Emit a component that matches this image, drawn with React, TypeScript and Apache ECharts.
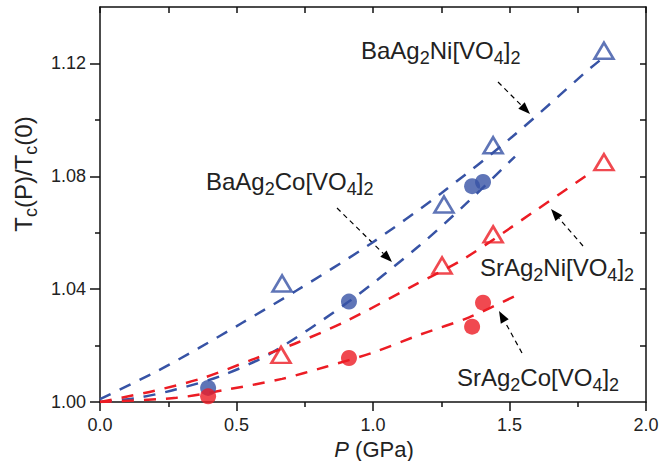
import React, { useEffect, useRef } from "react";
import * as echarts from "echarts";

// ---- axis ticks ----
const xMajorTicks = [0, 0.5, 1.0, 1.5, 2.0];
const yMajorTicks = [1.0, 1.04, 1.08, 1.12];
const yMinorTicks = [1.02, 1.06, 1.1];
const yRightTicks = [1.02, 1.04, 1.06, 1.08, 1.1, 1.12];

// ---- measured points ----
const baNiP = [0.667, 1.26, 1.44, 1.846];
const baNiTc = [1.042, 1.07, 1.091, 1.1245];
const baCoP = [0.396, 0.912, 1.363, 1.403];
const baCoTc = [1.005, 1.0356, 1.0765, 1.078];
const srNiP = [0.663, 1.253, 1.44, 1.846];
const srNiTc = [1.0167, 1.0484, 1.0594, 1.085];
const srCoP = [0.396, 0.912, 1.363, 1.403];
const srCoTc = [1.002, 1.0156, 1.0267, 1.0352];

// ---- dashed fit curves ----
const baNiFitP = [0, 0.21, 0.36, 0.52, 0.72, 0.99, 1.25, 1.51, 1.78, 1.83];
const baNiFitTc = [1.001, 1.011, 1.019, 1.028, 1.0395, 1.056, 1.074, 1.094, 1.117, 1.121];
const baCoFitP = [0, 0.14, 0.28, 0.45, 0.63, 0.91, 1.165, 1.34, 1.52];
const baCoFitTc = [1.0, 1.0015, 1.0045, 1.0095, 1.0175, 1.0355, 1.055, 1.0702, 1.087];
const srNiFitP = [0, 0.2, 0.377, 0.557, 0.722, 0.905, 1.143, 1.337, 1.59, 1.8];
const srNiFitTc = [1.0, 1.004, 1.0085, 1.015, 1.021, 1.0288, 1.041, 1.051, 1.0675, 1.0815];
const srCoFitP = [0, 0.28, 0.476, 0.667, 0.828, 0.996, 1.176, 1.352, 1.53];
const srCoFitTc = [1.0, 1.0015, 1.0046, 1.0082, 1.0125, 1.0174, 1.024, 1.03, 1.038];

const BLUE = "#3753a5";
const RED = "#ec1c24";
const FONT = "'Liberation Sans', Arial, Helvetica, sans-serif";

const zip = (a: number[], b: number[]) => a.map((v, i) => [v, b[i]]);

function arrow(x1: number, y1: number, x2: number, y2: number) {
  const dx = x2 - x1;
  const dy = y2 - y1;
  const len = Math.sqrt(dx * dx + dy * dy);
  const ux = dx / len;
  const uy = dy / len;
  const hl = 12;
  const hw = 4.5;
  const bx = x2 - ux * hl;
  const by = y2 - uy * hl;
  return [
    {
      type: "line",
      shape: { x1, y1, x2: bx, y2: by },
      style: { stroke: "#000", lineWidth: 1.2, lineDash: [5, 4] },
    },
    {
      type: "polygon",
      shape: {
        points: [
          [x2, y2],
          [bx - uy * hw, by + ux * hw],
          [bx + uy * hw, by - ux * hw],
        ],
      },
      style: { fill: "#000" },
    },
  ];
}

const subRich = {
  m: { fontSize: 24, fontFamily: FONT, fill: "#222" },
  s: { fontSize: 18, fontFamily: FONT, fill: "#222", padding: [16, 0, 0, 0] },
};

function label(x: number, y: number, text: string) {
  return {
    type: "text",
    x,
    y,
    style: {
      text,
      rich: subRich,
      fontSize: 24,
      fontFamily: FONT,
      fill: "#222",
      align: "left",
      verticalAlign: "middle",
    },
  };
}

export default function App() {
  const ref = useRef<HTMLDivElement>(null);
  useEffect(() => {
    if (!ref.current) return;
    const chart = echarts.init(ref.current, undefined, { renderer: "svg" });
    const axisLineStyle = { color: "#111", width: 1.5 };
    const dashed = (data: number[][], color: string) => ({
      type: "line",
      data,
      showSymbol: false,
      smooth: 0.3,
      xAxisIndex: 0,
      yAxisIndex: 0,
      lineStyle: { color, width: 2.5, type: [12, 10] },
      silent: true,
      z: 2,
    });
    const marks = (data: number[][], color: string, symbol: string, open: boolean) => ({
      type: "scatter",
      data,
      symbol,
      symbolSize: open ? [19, 16] : 16,
      xAxisIndex: 0,
      yAxisIndex: 0,
      itemStyle: open
        ? { color: "rgba(255,255,255,0)", borderColor: color, borderWidth: 2.6 }
        : { color },
      z: 3,
    });
    chart.setOption({
      animation: false,
      backgroundColor: "#fff",
      grid: {
        left: 100,
        right: 14,
        top: 7,
        bottom: 59,
        containLabel: false,
        outerBoundsMode: "none",
      },
      xAxis: [
        {
          type: "value",
          position: "bottom",
          min: 0,
          max: 2,
          interval: 0.5,
          axisLine: { lineStyle: axisLineStyle },
          axisTick: { length: 9, lineStyle: axisLineStyle },
          minorTick: { show: true, splitNumber: 2, length: 5, lineStyle: axisLineStyle },
          splitLine: { show: false },
          axisLabel: {
            fontSize: 18,
            lineHeight: 18,
            fontFamily: FONT,
            color: "#222",
            margin: 14,
            customValues: xMajorTicks,
            formatter: (v: number) => v.toFixed(1),
          },
        },
        {
          type: "value",
          position: "top",
          min: 0,
          max: 2,
          interval: 0.25,
          axisLine: { lineStyle: axisLineStyle },
          axisTick: { inside: true, length: 6, lineStyle: axisLineStyle },
          axisLabel: { show: false },
          splitLine: { show: false },
        },
      ],
      yAxis: [
        {
          type: "value",
          position: "left",
          min: 1.0,
          max: 1.14,
          axisLine: { lineStyle: axisLineStyle },
          axisTick: { length: 10, lineStyle: axisLineStyle, customValues: yMajorTicks },
          splitLine: { show: false },
          axisLabel: {
            fontSize: 18,
            fontFamily: FONT,
            color: "#222",
            margin: 14,
            customValues: yMajorTicks,
            formatter: (v: number) => v.toFixed(2),
          },
        },
        {
          type: "value",
          position: "left",
          min: 1.0,
          max: 1.14,
          axisLine: { show: false },
          axisTick: { length: 5, lineStyle: axisLineStyle, customValues: yMinorTicks },
          axisLabel: { show: false },
          splitLine: { show: false },
        },
        {
          type: "value",
          position: "right",
          min: 1.0,
          max: 1.14,
          axisLine: { lineStyle: axisLineStyle },
          axisTick: { inside: true, length: 6, lineStyle: axisLineStyle, customValues: yRightTicks },
          axisLabel: { show: false },
          splitLine: { show: false },
        },
      ],
      series: [
        dashed(zip(baNiFitP, baNiFitTc), BLUE),
        dashed(zip(baCoFitP, baCoFitTc), BLUE),
        dashed(zip(srNiFitP, srNiFitTc), RED),
        dashed(zip(srCoFitP, srCoFitTc), RED),
        marks(zip(baNiP, baNiTc), BLUE, "triangle", true),
        marks(zip(baCoP, baCoTc), BLUE, "circle", false),
        marks(zip(srNiP, srNiTc), RED, "triangle", true),
        marks(zip(srCoP, srCoTc), RED, "circle", false),
      ],
      graphic: {
        elements: [
          {
            type: "text",
            x: 23,
            y: 174,
            rotation: Math.PI / 2,
            style: {
              text: "T{s|c}(P)/T{s|c}(0)",
              rich: subRich,
              fontSize: 24,
              fontFamily: FONT,
              fill: "#222",
              align: "center",
              verticalAlign: "middle",
            },
          },
          {
            type: "text",
            x: 374,
            y: 449,
            style: {
              text: "{i|P} (GPa)",
              rich: { i: { fontSize: 22, fontFamily: FONT, fontStyle: "italic", fill: "#222" } },
              fontSize: 22,
              fontFamily: FONT,
              fill: "#222",
              align: "center",
              verticalAlign: "middle",
            },
          },
          label(361, 50, "BaAg{s|2}Ni[VO{s|4}]{s|2}"),
          label(206, 181, "BaAg{s|2}Co[VO{s|4}]{s|2}"),
          label(480, 267, "SrAg{s|2}Ni[VO{s|4}]{s|2}"),
          label(457, 377, "SrAg{s|2}Co[VO{s|4}]{s|2}"),
          ...arrow(498, 82, 530, 114),
          ...arrow(337, 208, 392, 262),
          ...arrow(583, 246, 551, 209),
          ...arrow(522, 353, 499, 311),
        ],
      },
    });
    return () => chart.dispose();
  }, []);
  return <div ref={ref} style={{ width: 660, height: 461, position: "absolute", left: 0, top: 0 }} />;
}
